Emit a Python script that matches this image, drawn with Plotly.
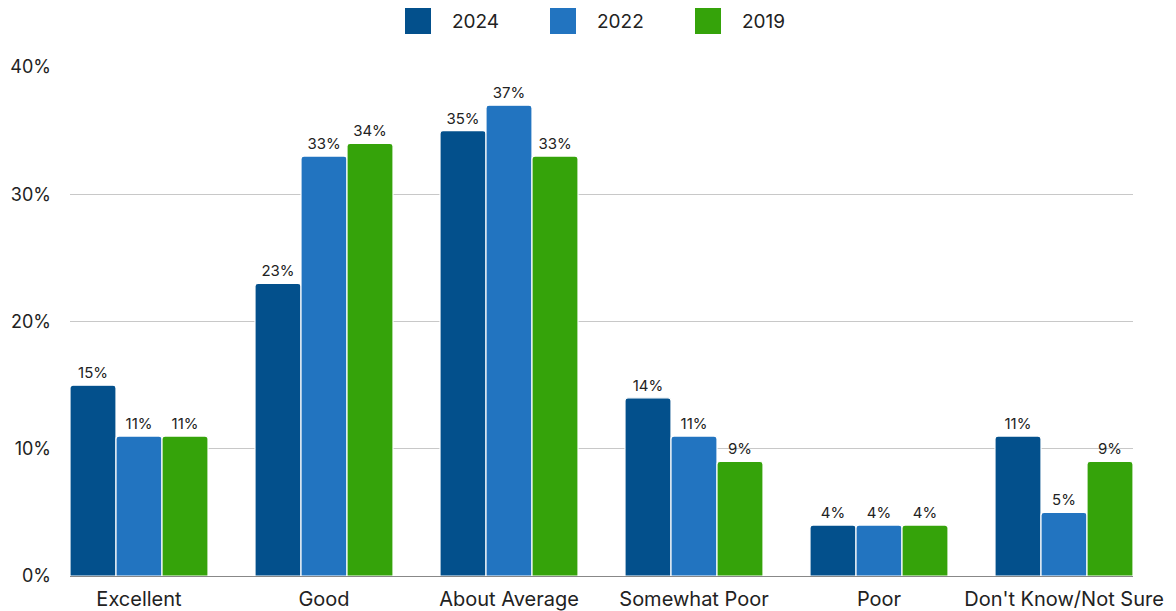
import plotly.graph_objects as go

categories = ["Excellent", "Good", "About Average", "Somewhat Poor", "Poor", "Don't Know/Not Sure"]
years = ["2024", "2022", "2019"]
values_2024 = [15, 23, 35, 14, 4, 11]
values_2022 = [11, 33, 37, 11, 4, 5]
values_2019 = [11, 34, 33, 9, 4, 9]
y_ticks = [0, 10, 20, 30, 40]
y_tick_labels = ["0%", "10%", "20%", "30%", "40%"]

colors = ["#03508c", "#2274c0", "#35a30a"]
series = [values_2024, values_2022, values_2019]

FONT = "Inter"
W, H = 1176, 611
L, R, T, B = 70, 43, 67, 35

fig = go.Figure()
for name, vals, col in zip(years, series, colors):
    fig.add_trace(go.Bar(
        x=categories, y=vals, name=name,
        marker=dict(color=col, line=dict(color="white", width=1.2)),
        texttemplate="%{y}%", textposition="outside",
        textfont=dict(family=FONT, size=15, color="#222222"),
        cliponaxis=False, showlegend=False,
    ))

# legend drawn as large square swatches with labels above the plot
plot_w = W - L - R
plot_h = H - T - B
def px_x(p):
    return (p - L) / plot_w
def px_y(p):
    return (H - B - p) / plot_h

swatch_left = [405, 550, 695]
for x0, name, col in zip(swatch_left, years, colors):
    fig.add_shape(type="rect", xref="paper", yref="paper",
                  x0=px_x(x0), x1=px_x(x0 + 26), y0=px_y(34), y1=px_y(8),
                  fillcolor=col, line=dict(color=col, width=0))
    fig.add_annotation(xref="paper", yref="paper", x=px_x(x0 + 45), y=px_y(21),
                       text=name, showarrow=False, xanchor="left", yanchor="middle",
                       font=dict(family=FONT, size=19, color="#222222"))

# groups sit flush with both ends of the gridlines
edge = 0.373
fig.update_layout(
    width=W, height=H,
    margin=dict(l=L, r=R, t=T, b=B),
    paper_bgcolor="white", plot_bgcolor="white",
    barmode="group", bargap=0.254, bargroupgap=0.0,
    barcornerradius=3,
    font=dict(family=FONT, size=18, color="#222222"),
    xaxis=dict(showgrid=False, showline=False, ticks="", tickfont=dict(size=20),
               range=[-edge, len(categories) - 1 + edge],
               ticklabelstandoff=9, automargin=False),
    yaxis=dict(range=[0, 40], tickvals=y_ticks, ticktext=y_tick_labels,
               showgrid=True, gridcolor="#c8c8c8", gridwidth=1,
               zeroline=True, zerolinecolor="#888888", zerolinewidth=1,
               tickfont=dict(size=18), ticks="", ticklabelstandoff=18,
               automargin=False),
)

fig.write_html("out.html")
